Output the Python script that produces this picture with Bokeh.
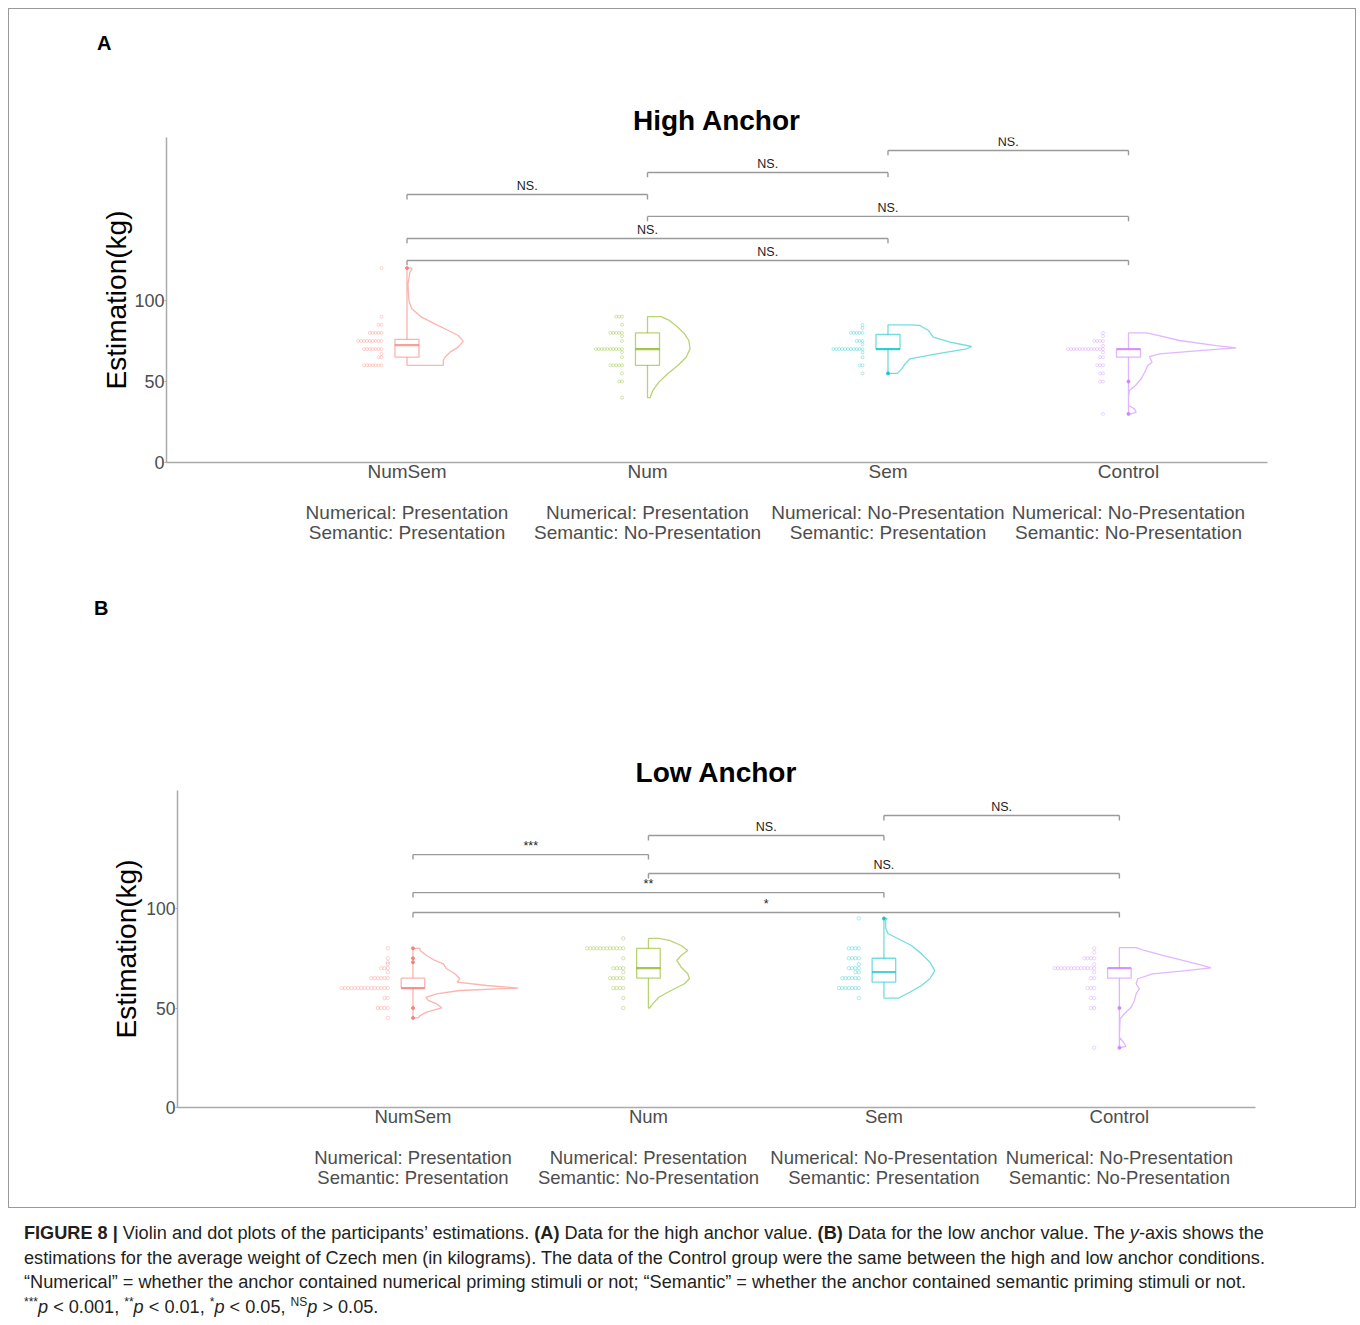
import numpy as np
from bokeh.plotting import figure
from bokeh.models import Range1d, FixedTicker, LinearAxis, Div
from bokeh.layouts import column
from bokeh.embed import file_html
from bokeh.resources import INLINE
from bokeh.core.properties import value

# ---------------- data ----------------
categories = ["NumSem", "Num", "Sem", "Control"]
numerical_labels = ["Numerical: Presentation", "Numerical: Presentation",
                    "Numerical: No-Presentation", "Numerical: No-Presentation"]
semantic_labels = ["Semantic: Presentation", "Semantic: No-Presentation",
                   "Semantic: Presentation", "Semantic: No-Presentation"]
colors = ["#F8766D", "#7CAE00", "#00BFC4", "#C77CFF"]
y_ticks = [0, 50, 100]

# High anchor: dot plot values and counts
hi_numsem_vals = [120, 90, 85, 80, 75, 70, 67, 65, 60]
hi_numsem_counts = [1, 1, 2, 5, 9, 7, 1, 2, 7]
hi_num_vals = [90, 85, 80, 78, 75, 70, 68, 65, 60, 55, 50, 40]
hi_num_counts = [3, 1, 5, 1, 1, 10, 1, 1, 5, 1, 2, 1]
hi_sem_vals = [85, 83, 80, 75, 73, 70, 68, 65, 60, 55]
hi_sem_counts = [1, 1, 5, 3, 1, 11, 1, 1, 2, 1]
control_vals = [80, 78, 75, 72, 70, 68, 65, 60, 55, 50, 30]
control_counts = [1, 1, 4, 1, 13, 1, 2, 3, 2, 2, 1]

# Low anchor: dot plot values and counts
lo_numsem_vals = [80, 75, 73, 72, 70, 68, 65, 60, 55, 50, 45]
lo_numsem_counts = [1, 1, 1, 1, 3, 1, 6, 15, 2, 4, 1]
lo_num_vals = [85, 80, 75, 70, 68, 65, 60, 55, 50]
lo_num_counts = [1, 12, 1, 4, 1, 5, 4, 1, 1]
lo_sem_vals = [95, 80, 75, 72, 70, 68, 65, 60, 55]
lo_sem_counts = [1, 4, 4, 1, 4, 2, 6, 7, 1]

# box statistics (Q1, median, Q3) and outliers
hi_q1 = [65, 60, 70, 65]
hi_median = [72.5, 70, 70, 70]
hi_q3 = [76, 80, 79, 70]
hi_outliers = [[120], [], [55], [50, 30]]
lo_q1 = [60, 65, 63, 65]
lo_median = [60, 70, 68, 70]
lo_q3 = [65, 80, 75, 70]
lo_outliers = [[80, 75, 73, 50, 45], [], [95], [50, 30]]

# half-violin profiles: estimation value and half-width (category units)
hi_numsem_vy = [60, 63, 65, 68.1, 71.2, 74.9, 78.4, 81.5, 85.6, 89.7, 94.9, 100, 110, 117.5, 119, 120]
hi_numsem_vw = [0.151, 0.151, 0.158, 0.179, 0.213, 0.234, 0.213, 0.172, 0.116, 0.061, 0.02, 0.008, 0.004, 0.012, 0.02, 0.02]
hi_num_vy = [40, 44.4, 49.6, 54.8, 59.9, 65, 70.2, 75.3, 79.4, 83.5, 87.7, 90]
hi_num_vw = [0.011, 0.022, 0.047, 0.084, 0.126, 0.161, 0.177, 0.172, 0.154, 0.126, 0.091, 0.057]
hi_sem_vy = [55, 57.8, 60.9, 64, 67.1, 70.2, 71.6, 74.3, 77.4, 81.5, 84.6, 85]
hi_sem_vw = [0.039, 0.057, 0.071, 0.091, 0.202, 0.327, 0.348, 0.258, 0.188, 0.168, 0.133, 0.091]
hi_control_vy = [30, 31, 33.1, 35.2, 40.3, 44.4, 47.5, 51.7, 56.8, 59.9, 61.9, 65.4, 67.1, 69.1, 70.8, 72.2, 75.3, 78.4, 80]
hi_control_vw = [0.01, 0.032, 0.025, 0.0, 0.0, 0.004, 0.029, 0.053, 0.071, 0.080, 0.098, 0.087, 0.129, 0.295, 0.448, 0.365, 0.212, 0.122, 0.074]

lo_numsem_vy = [45, 46.2, 47.9, 50.1, 52.1, 53.8, 55.4, 57.1, 58.8, 60, 61.3, 63, 64.7, 67.2, 69.7, 72.2, 73.9, 76.4, 78.9, 80]
lo_numsem_vw = [0.023, 0.03, 0.058, 0.122, 0.1, 0.065, 0.055, 0.1, 0.199, 0.447, 0.313, 0.188, 0.199, 0.178, 0.143, 0.129, 0.093, 0.058, 0.03, 0.03]
lo_num_vy = [50, 52.1, 55.4, 58.8, 62.2, 64.7, 67.2, 70.5, 73.9, 76.4, 78.9, 81.4, 84, 85]
lo_num_vw = [0.005, 0.018, 0.044, 0.096, 0.153, 0.174, 0.167, 0.139, 0.120, 0.139, 0.167, 0.139, 0.089, 0.044]
lo_sem_vy = [55, 55.4, 57.9, 61.3, 64.7, 68.8, 73, 77.2, 81.4, 84.8, 87.3, 90, 94, 95]
lo_sem_vw = [0.064, 0.068, 0.110, 0.160, 0.195, 0.216, 0.195, 0.160, 0.117, 0.061, 0.018, 0.008, 0.007, 0.014]
lo_control_vy = [30, 30.7, 32.8, 35.3, 44.6, 47.1, 50.4, 53.8, 57.1, 59.6, 62.2, 64.7, 67.2, 68.8, 70.2, 71.4, 73.9, 76.4, 78.9, 80.3]
lo_control_vw = [0.0, 0.028, 0.017, 0.0, 0.003, 0.021, 0.050, 0.064, 0.071, 0.085, 0.071, 0.078, 0.141, 0.283, 0.389, 0.353, 0.269, 0.184, 0.106, 0.071]

# significance brackets: (from category, to category), bracket height, label
hi_pairs = [(1, 3), (1, 4), (2, 4), (1, 2), (2, 3), (3, 4)]
hi_bracket_y = [138.3, 124.7, 151.9, 165.4, 179.0, 192.6]
hi_sig = ["NS.", "NS.", "NS.", "NS.", "NS.", "NS."]
lo_pairs = [(1, 4), (1, 3), (2, 4), (1, 2), (2, 3), (3, 4)]
lo_bracket_y = [98.0, 108.0, 117.6, 127.1, 136.7, 146.7]
lo_sig = ["*", "**", "NS.", "***", "NS.", "NS."]

FONT = "Liberation Sans"


def make_panel(title, dots, violins, q1, med, q3, outliers,
               pairs, br_y, sig, ymax, fig_h, mb_left, mb_right, mb_top, mb_bottom,
               dot_off, dot_step, dot_size, tick_len, tick_fs, cat_fs,
               title_standoff, ylabel_standoff):
    p = figure(width=1346, height=fig_h, output_backend="svg", toolbar_location=None,
               x_range=Range1d(0, 4.578), y_range=Range1d(0, ymax),
               min_border_left=mb_left, min_border_right=mb_right,
               min_border_top=mb_top, min_border_bottom=mb_bottom,
               title=title)
    p.title.align = "center"
    p.title.text_font = FONT
    p.title.text_font_size = "28px"
    p.title.text_font_style = "bold"
    p.title.text_color = "#000000"
    p.title.standoff = title_standoff
    p.outline_line_color = None
    p.grid.grid_line_color = None
    p.background_fill_color = "white"
    p.border_fill_color = "white"

    ya = p.yaxis[0]
    ya.ticker = FixedTicker(ticks=y_ticks)
    ya.axis_label = "Estimation(kg)"
    ya.axis_label_text_font = FONT
    ya.axis_label_text_font_size = "28px"
    ya.axis_label_text_font_style = "normal"
    ya.axis_label_text_color = "#000000"
    ya.axis_label_standoff = ylabel_standoff
    ya.major_label_text_font = FONT
    ya.major_label_text_font_size = tick_fs
    ya.major_label_text_color = "#4D4D4D"
    ya.major_label_standoff = 0
    ya.axis_line_color = "#AAAAAA"
    ya.axis_line_width = 1.5
    ya.major_tick_line_color = "#AAAAAA"
    ya.major_tick_in = 0
    ya.major_tick_out = 2
    ya.minor_tick_line_color = None

    xa = p.xaxis[0]
    xa.ticker = FixedTicker(ticks=[1, 2, 3, 4])
    xa.major_label_overrides = {i + 1: c for i, c in enumerate(categories)}
    xa.major_label_text_font = FONT
    xa.major_label_text_font_size = cat_fs
    xa.major_label_text_color = "#4D4D4D"
    xa.major_label_standoff = -8
    xa.axis_line_color = "#AAAAAA"
    xa.axis_line_width = 1.5
    xa.major_tick_line_color = None
    xa.minor_tick_line_color = None

    for k, labels in enumerate([numerical_labels, semantic_labels]):
        ax = LinearAxis(ticker=FixedTicker(ticks=[1, 2, 3, 4]),
                        major_label_overrides={i + 1: t for i, t in enumerate(labels)})
        ax.axis_line_color = None
        ax.major_tick_line_color = None
        ax.minor_tick_line_color = None
        ax.major_label_text_font = FONT
        ax.major_label_text_font_size = cat_fs
        ax.major_label_text_color = "#4D4D4D"
        ax.major_label_standoff = 11 if k == 0 else -10
        p.add_layout(ax, "below")

    for i in range(4):
        c = i + 1
        col = colors[i]
        vals, counts = dots[i]
        xs, ys = [], []
        for v, n in zip(vals, counts):
            for k in range(n):
                xs.append(c - dot_off - dot_step * k)
                ys.append(v)
        p.scatter(xs, ys, size=dot_size, marker="circle", fill_color=None,
                  line_color=col, line_alpha=0.45, line_width=0.7)
        vy, vw = violins[i]
        px = [c + w for w in vw] + [c, c]
        py = list(vy) + [vy[-1], vy[0]]
        p.patch(px, py, fill_alpha=0, line_color=col, line_alpha=0.55, line_width=1.3)
        p.quad(left=[c - 0.05], right=[c + 0.05], bottom=[q1[i]], top=[q3[i]],
               fill_color="white", line_color=col, line_alpha=0.55, line_width=1.3)
        p.segment([c - 0.05], [med[i]], [c + 0.05], [med[i]], line_color=col,
                  line_alpha=0.7, line_width=2.2)
        if outliers[i]:
            p.scatter([c] * len(outliers[i]), outliers[i], size=3, marker="circle",
                      color=col, alpha=0.8)

    x0 = [a for a, b in pairs]
    x1 = [b for a, b in pairs]
    yb = list(br_y)
    yt = [y - tick_len for y in yb]
    gray = "#9A9A9A"
    p.segment(x0, yb, x1, yb, line_color=gray, line_width=1.4)
    p.segment(x0, yb, x0, yt, line_color=gray, line_width=1.4)
    p.segment(x1, yb, x1, yt, line_color=gray, line_width=1.4)
    p.text(x=[(a + b) / 2 for a, b in pairs], y=[y + tick_len * 0.35 for y in yb], text=list(sig),
           text_align="center", text_baseline="bottom", text_font=value(FONT),
           text_font_size="12.5px", text_color="#222222")
    return p


def panel_letter(letter, left, top, height):
    html = ('<div style="position:relative; left:%dpx; top:%dpx; font-family:\'Liberation Sans\', Arial, sans-serif; '
            'font-weight:bold; font-size:20px; line-height:24px; color:#000;">%s</div>' % (left, top, letter))
    return Div(text=html, width=1346, height=height, margin=0)


pa = make_panel(
    "High Anchor",
    [(hi_numsem_vals, hi_numsem_counts), (hi_num_vals, hi_num_counts),
     (hi_sem_vals, hi_sem_counts), (control_vals, control_counts)],
    [(hi_numsem_vy, hi_numsem_vw), (hi_num_vy, hi_num_vw),
     (hi_sem_vy, hi_sem_vw), (hi_control_vy, hi_control_vw)],
    hi_q1, hi_median, hi_q3, hi_outliers, hi_pairs, hi_bracket_y, hi_sig,
    ymax=200.6, fig_h=510, mb_left=157, mb_right=88, mb_top=58, mb_bottom=127,
    dot_off=0.106, dot_step=0.0121, dot_size=3.0, tick_len=3.0,
    tick_fs="18px", cat_fs="19px", title_standoff=4, ylabel_standoff=-1)

pb = make_panel(
    "Low Anchor",
    [(lo_numsem_vals, lo_numsem_counts), (lo_num_vals, lo_num_counts),
     (lo_sem_vals, lo_sem_counts), (control_vals, control_counts)],
    [(lo_numsem_vy, lo_numsem_vw), (lo_num_vy, lo_num_vw),
     (lo_sem_vy, lo_sem_vw), (lo_control_vy, lo_control_vw)],
    lo_q1, lo_median, lo_q3, lo_outliers, lo_pairs, lo_bracket_y, lo_sig,
    ymax=159.3, fig_h=558, mb_left=168, mb_right=100, mb_top=141, mb_bottom=100,
    dot_off=0.107, dot_step=0.0140, dot_size=3.4, tick_len=2.5,
    tick_fs="17.5px", cat_fs="18.5px", title_standoff=5, ylabel_standoff=1)

root_a = column(panel_letter("A", 88, 22, 70), pa, width=1348,
                styles={"border": "1px solid #999999", "border-bottom": "none",
                        "margin": "8px 8px 0px 8px"})
root_b = column(panel_letter("B", 85, 7, 60), pb, width=1348,
                styles={"border": "1px solid #999999", "border-top": "none",
                        "margin": "0px 8px 0px 8px"})

sup = '<sup style="font-size:12px; line-height:0;">%s</sup>'
caption_html = (
    "<b>FIGURE 8 |</b> Violin and dot plots of the participants\u2019 estimations. <b>(A)</b> Data for the high anchor value. "
    "<b>(B)</b> Data for the low anchor value. The <i>y</i>-axis shows the<br>"
    "estimations for the average weight of Czech men (in kilograms). The data of the Control group were the same between the high and low anchor conditions.<br>"
    "\u201cNumerical\u201d = whether the anchor contained numerical priming stimuli or not; \u201cSemantic\u201d = whether the anchor contained semantic priming stimuli or not.<br>"
    + sup % "***" + "<i>p</i> &lt; 0.001, " + sup % "**" + "<i>p</i> &lt; 0.01, "
    + sup % "*" + "<i>p</i> &lt; 0.05, " + sup % "NS" + "<i>p</i> &gt; 0.05."
)
caption = Div(text=caption_html, width=1330, height=105, margin=0,
              styles={"font-family": "'Liberation Sans', Arial, sans-serif",
                      "font-size": "18.15px", "line-height": "24.7px", "color": "#231F20",
                      "white-space": "nowrap", "margin-left": "8px", "padding-left": "16px",
                      "padding-top": "13px"})

open("out.html", "w").write(file_html([root_a, root_b, caption], INLINE))
